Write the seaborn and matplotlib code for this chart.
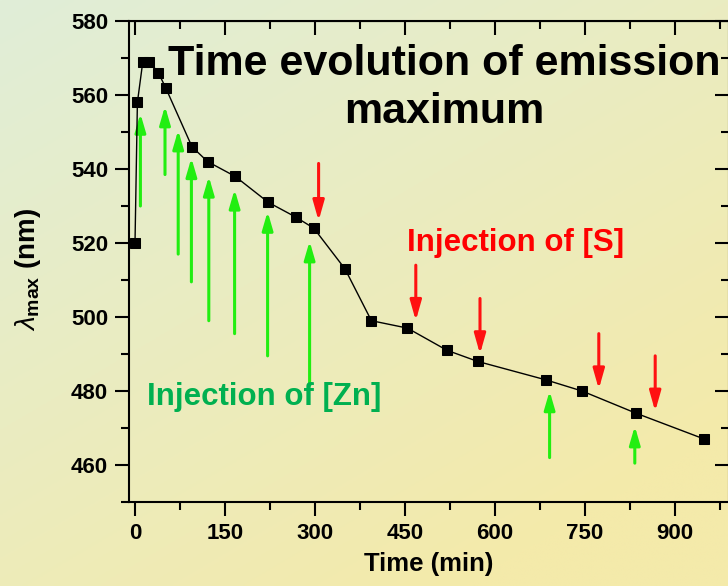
import numpy as np
import matplotlib
matplotlib.use("Agg")
import matplotlib.pyplot as plt
import seaborn as sns
import pandas as pd

# ---- data ----
time_min = [0, 4, 13, 24, 39, 51, 95, 121, 167, 222, 268, 298, 350,
            394, 454, 520, 571, 685, 745, 835, 949]
lambda_max = [520, 558, 569, 569, 566, 562, 546, 542, 538, 531, 527, 524, 513,
              499, 497, 491, 488, 483, 480, 474, 467]

zn_x = [9, 50, 72, 94, 123, 166, 221, 291, 691, 833]
zn_tail = [530, 538.5, 517, 509.5, 499, 495.5, 489.5, 481.5, 462, 460.5]
zn_tip = [555, 557, 550.5, 543, 538, 534.5, 528.5, 520.5, 480, 470.5]

s_x = [306, 468, 575, 773, 867]
s_tail = [541.5, 514, 505, 495.5, 489.5]
s_tip = [526, 499, 490, 480.5, 474.5]

x_ticks = [0, 150, 300, 450, 600, 750, 900]
y_ticks = [460, 480, 500, 520, 540, 560, 580]

title_text = "Time evolution of emission\nmaximum"
s_label = "Injection of [S]"
zn_label = "Injection of [Zn]"

sns.set_style("ticks")
plt.rcParams['font.family'] = ['Liberation Sans', 'DejaVu Sans']
plt.rcParams['mathtext.fontset'] = 'custom'
plt.rcParams['mathtext.rm'] = 'Liberation Sans'
plt.rcParams['mathtext.bf'] = 'Liberation Sans:bold'
plt.rcParams['mathtext.it'] = 'Liberation Sans:italic'
for k in ['text.color', 'axes.labelcolor', 'xtick.color', 'ytick.color',
          'xtick.labelcolor', 'ytick.labelcolor', 'axes.edgecolor']:
    plt.rcParams[k] = 'black'

W, H = 728, 586
fig = plt.figure(figsize=(W / 100, H / 100), dpi=100)

# background gradient
bg = fig.add_axes([0, 0, 1, 1], zorder=-10)
yy, xx = np.mgrid[0:1:200j, 0:1:200j]
t = np.clip((xx * 0.55 + yy * 0.75) / 1.1, 0, 1)
c0 = np.array([224, 238, 216]) / 255.0
c1 = np.array([244, 234, 170]) / 255.0
img = c0[None, None, :] * (1 - t[..., None]) + c1[None, None, :] * t[..., None]
bg.imshow(img, aspect='auto', extent=[0, 1, 0, 1], origin='upper')
bg.axis('off')

ax = fig.add_axes([129 / W, (H - 502) / H, 600 / W, 481 / H])
ax.set_facecolor('none')

df = pd.DataFrame({"Time": time_min, "lam": lambda_max})
sns.lineplot(data=df, x="Time", y="lam", ax=ax, color='black', lw=1.0,
             marker='s', markersize=7.5, markeredgecolor='black',
             markerfacecolor='black', zorder=5)

for x, a, b in zip(zn_x, zn_tail, zn_tip):
    ax.annotate('', xy=(x, b), xytext=(x, a),
                arrowprops=dict(arrowstyle='-|>,head_length=11,head_width=3.2',
                                mutation_scale=1, color='#22ee11', lw=2.2,
                                shrinkA=0, shrinkB=0), zorder=4)
for x, a, b in zip(s_x, s_tail, s_tip):
    ax.annotate('', xy=(x, b), xytext=(x, a),
                arrowprops=dict(arrowstyle='-|>,head_length=12,head_width=3.4',
                                mutation_scale=1, color='#ff1111', lw=2.2,
                                shrinkA=0, shrinkB=0), zorder=4)

ax.set_xlim(-10, 990)
ax.set_ylim(450, 580)
ax.set_xticks(x_ticks)
ax.set_yticks(y_ticks)
ax.set_xticks([v + 75 for v in x_ticks], minor=True)
ax.set_yticks([v + 10 for v in y_ticks[:-1]] + [450], minor=True)
ax.tick_params(axis='both', which='major', direction='out', length=10, width=1.5,
               labelsize=16, pad=5, color='black', labelcolor='black')
ax.tick_params(axis='both', which='minor', direction='out', length=5.5, width=1.5)
for lab in ax.get_xticklabels() + ax.get_yticklabels():
    lab.set_fontweight('bold')
for sp in ['left', 'bottom', 'top', 'right']:
    ax.spines[sp].set_linewidth(1.5)
    ax.spines[sp].set_color('black')

# top & right inward ticks
secx = ax.secondary_xaxis('top')
secx.set_xticks(x_ticks)
secx.set_xticks([v + 75 for v in x_ticks], minor=True)
secx.tick_params(which='major', direction='in', length=10, width=1.5, labeltop=False)
secx.tick_params(which='minor', direction='in', length=5.5, width=1.5)
secy = ax.secondary_yaxis('right')
secy.set_yticks(y_ticks)
secy.set_yticks([v + 10 for v in y_ticks[:-1]], minor=True)
secy.tick_params(which='major', direction='in', length=10, width=1.5, labelright=False)
secy.tick_params(which='minor', direction='in', length=5.5, width=1.5)

ax.set_xlabel("Time (min)", fontsize=18.5, fontweight='bold', labelpad=6)
ax.set_ylabel(r"$\lambda_{\mathbf{max}}$ (nm)", fontsize=20, fontweight='bold')
ax.yaxis.set_label_coords(-0.143, 0.484)

fig.text(444 / W, 1 - 88 / H, title_text, ha='center', va='center',
         fontsize=31, fontweight='bold', linespacing=1.25)
fig.text(516 / W, 1 - 243 / H, s_label, ha='center', va='center',
         fontsize=22.5, fontweight='bold', color='#ff0000')
fig.text(264 / W, 1 - 397 / H, zn_label, ha='center', va='center',
         fontsize=22.5, fontweight='bold', color='#00b050')

fig.savefig("out.png", dpi=100)
